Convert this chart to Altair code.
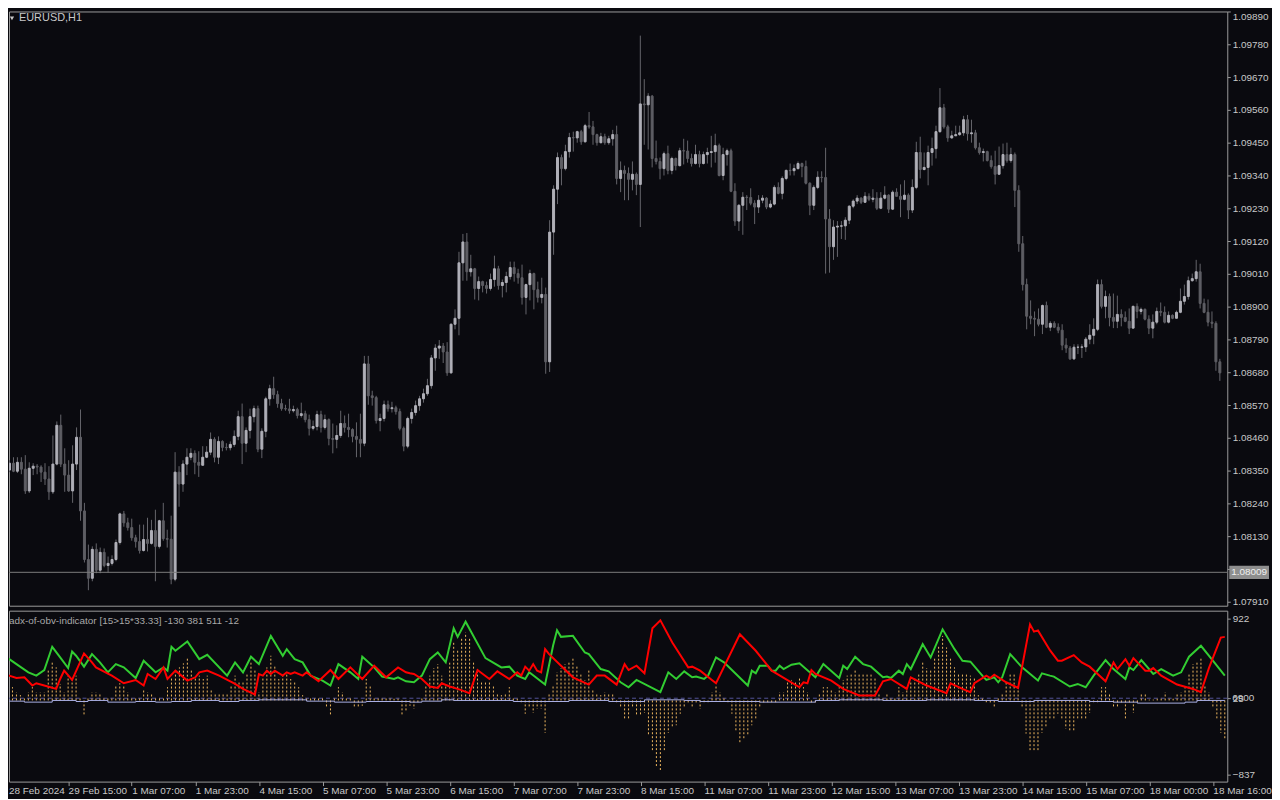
import altair as alt
import pandas as pd

# ---------------- price data (EURUSD H1) ----------------
OPEN_FIRST = 1.08352
CLOSE = [
1.08375,1.08348,1.08378,1.08355,1.08282,1.08358,1.08365,1.08362,1.08345,1.08322,
1.08279,1.08372,1.08502,1.08372,1.08335,1.08282,1.08372,1.08462,1.08215,1.08052,
1.07989,1.08086,1.08016,1.08076,1.08032,1.08039,1.08052,1.08109,1.08205,1.08175,
1.08159,1.08125,1.08112,1.08082,1.08119,1.08106,1.08149,1.08096,1.08182,1.08122,
1.08120,1.07986,1.08345,1.08305,1.08372,1.08395,1.08408,1.08378,1.08368,1.08395,
1.08412,1.08455,1.08395,1.08448,1.08428,1.08427,1.08438,1.08465,1.08531,1.08442,
1.08485,1.08531,1.08558,1.08422,1.08482,1.08591,1.08625,1.08605,1.08575,1.08558,
1.08557,1.08551,1.08555,1.08535,1.08541,1.08521,1.08492,1.08498,1.08538,1.08495,
1.08521,1.08458,1.08455,1.08468,1.08508,1.08495,1.08488,1.08465,1.08455,1.08442,
1.08708,1.08601,1.08595,1.08518,1.08525,1.08571,1.08558,1.08561,1.08548,1.08492,
1.08432,1.08525,1.08545,1.08568,1.08591,1.08608,1.08635,1.08728,1.08761,1.08768,
1.08748,1.08678,1.08841,1.08861,1.09047,1.09117,1.09017,1.09027,1.08961,1.08984,
1.08971,1.08961,1.08991,1.09027,1.08971,1.08981,1.09001,1.09031,1.09011,1.08997,
1.08931,1.08974,1.09011,1.08957,1.08931,1.08941,1.08715,1.09150,1.09294,1.09400,
1.09363,1.09420,1.09467,1.09466,1.09487,1.09453,1.09507,1.09503,1.09477,1.09450,
1.09470,1.09450,1.09463,1.09477,1.09330,1.09357,1.09347,1.09327,1.09344,1.09310,
1.09580,1.09577,1.09606,1.09397,1.09387,1.09363,1.09413,1.09357,1.09397,1.09373,
1.09423,1.09422,1.09397,1.09380,1.09410,1.09380,1.09410,1.09417,1.09420,1.09440,
1.09340,1.09410,1.09423,1.09287,1.09187,1.09240,1.09267,1.09266,1.09247,1.09234,
1.09257,1.09264,1.09234,1.09244,1.09300,1.09280,1.09330,1.09357,1.09356,1.09363,
1.09380,1.09370,1.09314,1.09240,1.09300,1.09334,1.09333,1.09194,1.09101,1.09167,
1.09170,1.09171,1.09190,1.09237,1.09254,1.09264,1.09250,1.09270,1.09260,1.09264,
1.09230,1.09264,1.09274,1.09227,1.09284,1.09270,1.09260,1.09274,1.09224,1.09300,
1.09417,1.09360,1.09367,1.09417,1.09430,1.09487,1.09567,1.09503,1.09466,1.09473,
1.09477,1.09483,1.09527,1.09480,1.09483,1.09433,1.09417,1.09420,1.09390,1.09370,
1.09344,1.09373,1.09410,1.09390,1.09410,1.09290,1.09111,1.08974,1.08868,1.08861,
1.08858,1.08841,1.08904,1.08831,1.08844,1.08831,1.08821,1.08771,1.08761,1.08725,
1.08764,1.08764,1.08765,1.08791,1.08804,1.08824,1.08974,1.08901,1.08934,1.08864,
1.08851,1.08874,1.08864,1.08851,1.08828,1.08901,1.08884,1.08891,1.08858,1.08828,
1.08848,1.08884,1.08881,1.08848,1.08871,1.08861,1.08881,1.08918,1.08934,1.08987,
1.08994,1.09017,1.08911,1.08881,1.08848,1.08844,1.08715,1.08678]

HIGH = [
1.08385,1.08395,1.08395,1.08395,1.08402,1.08378,1.08375,1.08372,1.08368,1.08375,
1.08365,1.08468,1.08515,1.08538,1.08425,1.08385,1.08435,1.08495,1.08555,1.08242,
1.08102,1.08096,1.08106,1.08092,1.08089,1.08062,1.08066,1.08119,1.08209,1.08215,
1.08192,1.08189,1.08135,1.08169,1.08169,1.08192,1.08185,1.08219,1.08185,1.08242,
1.08152,1.08199,1.08412,1.08365,1.08385,1.08425,1.08425,1.08418,1.08415,1.08432,
1.08432,1.08478,1.08462,1.08465,1.08452,1.08442,1.08448,1.08485,1.08551,1.08575,
1.08495,1.08558,1.08568,1.08568,1.08492,1.08598,1.08638,1.08665,1.08618,1.08591,
1.08571,1.08591,1.08568,1.08561,1.08578,1.08551,1.08538,1.08518,1.08551,1.08551,
1.08538,1.08525,1.08508,1.08502,1.08551,1.08535,1.08541,1.08492,1.08512,1.08541,
1.08735,1.08735,1.08618,1.08601,1.08541,1.08585,1.08585,1.08581,1.08568,1.08558,
1.08498,1.08531,1.08558,1.08585,1.08601,1.08625,1.08658,1.08738,1.08774,1.08788,
1.08778,1.08781,1.08844,1.08891,1.09084,1.09144,1.09147,1.09074,1.09030,1.09001,
1.08987,1.08984,1.09011,1.09071,1.09037,1.08991,1.09017,1.09051,1.09051,1.09027,
1.09041,1.08977,1.09024,1.09014,1.08984,1.08997,1.08964,1.09190,1.09307,1.09417,
1.09410,1.09443,1.09483,1.09487,1.09490,1.09493,1.09513,1.09553,1.09523,1.09480,
1.09483,1.09480,1.09473,1.09493,1.09507,1.09387,1.09373,1.09367,1.09387,1.09350,
1.09809,1.09663,1.09616,1.09610,1.09457,1.09400,1.09420,1.09440,1.09403,1.09400,
1.09433,1.09463,1.09457,1.09413,1.09443,1.09423,1.09420,1.09433,1.09473,1.09480,
1.09447,1.09433,1.09430,1.09430,1.09314,1.09244,1.09284,1.09274,1.09297,1.09257,
1.09274,1.09274,1.09267,1.09257,1.09307,1.09317,1.09337,1.09360,1.09380,1.09377,
1.09387,1.09383,1.09390,1.09317,1.09307,1.09354,1.09354,1.09433,1.09227,1.09190,
1.09187,1.09187,1.09200,1.09240,1.09260,1.09274,1.09267,1.09284,1.09280,1.09294,
1.09284,1.09284,1.09304,1.09277,1.09290,1.09297,1.09310,1.09324,1.09280,1.09327,
1.09453,1.09470,1.09417,1.09440,1.09467,1.09507,1.09633,1.09580,1.09510,1.09490,
1.09507,1.09507,1.09540,1.09543,1.09527,1.09493,1.09450,1.09430,1.09423,1.09407,
1.09423,1.09437,1.09447,1.09450,1.09433,1.09417,1.09307,1.09137,1.08994,1.08921,
1.08884,1.08894,1.08907,1.08917,1.08851,1.08851,1.08844,1.08841,1.08794,1.08768,
1.08774,1.08774,1.08774,1.08798,1.08841,1.08861,1.08991,1.08991,1.08954,1.08944,
1.08944,1.08937,1.08891,1.08884,1.08894,1.08904,1.08911,1.08897,1.08894,1.08871,
1.08874,1.08897,1.08914,1.08901,1.08884,1.08874,1.08887,1.08961,1.08974,1.09001,
1.09011,1.09057,1.09044,1.08927,1.08924,1.08884,1.08851,1.08725]

LOW = [
1.08345,1.08345,1.08342,1.08338,1.08272,1.08275,1.08335,1.08338,1.08312,1.08302,
1.08252,1.08272,1.08368,1.08362,1.08279,1.08279,1.08242,1.08352,1.08182,1.08042,
1.07949,1.07979,1.08006,1.08006,1.08026,1.08009,1.08032,1.08046,1.08102,1.08162,
1.08149,1.08115,1.08092,1.08072,1.08079,1.08079,1.08102,1.07979,1.08089,1.08115,
1.08092,1.07969,1.07979,1.08229,1.08279,1.08335,1.08385,1.08338,1.08329,1.08368,
1.08392,1.08402,1.08378,1.08372,1.08415,1.08418,1.08418,1.08430,1.08452,1.08372,
1.08412,1.08458,1.08512,1.08412,1.08392,1.08462,1.08568,1.08591,1.08561,1.08551,
1.08551,1.08541,1.08545,1.08525,1.08528,1.08512,1.08468,1.08485,1.08485,1.08478,
1.08488,1.08435,1.08408,1.08425,1.08460,1.08478,1.08462,1.08445,1.08395,1.08395,
1.08432,1.08571,1.08568,1.08508,1.08482,1.08515,1.08548,1.08545,1.08538,1.08485,
1.08415,1.08425,1.08508,1.08535,1.08551,1.08578,1.08601,1.08625,1.08685,1.08725,
1.08711,1.08668,1.08675,1.08824,1.08804,1.08987,1.08987,1.09001,1.08924,1.08921,
1.08948,1.08944,1.08954,1.08967,1.08957,1.08931,1.08948,1.08991,1.08984,1.08977,
1.08907,1.08874,1.08921,1.08891,1.08914,1.08911,1.08675,1.08681,1.09074,1.09244,
1.09307,1.09357,1.09400,1.09420,1.09450,1.09443,1.09450,1.09497,1.09443,1.09440,
1.09447,1.09443,1.09443,1.09440,1.09310,1.09284,1.09257,1.09257,1.09290,1.09274,
1.09167,1.09443,1.09427,1.09367,1.09377,1.09327,1.09340,1.09344,1.09344,1.09357,
1.09370,1.09377,1.09383,1.09370,1.09377,1.09367,1.09377,1.09380,1.09367,1.09383,
1.09337,1.09324,1.09373,1.09284,1.09171,1.09154,1.09141,1.09224,1.09240,1.09177,
1.09214,1.09247,1.09227,1.09230,1.09240,1.09277,1.09260,1.09324,1.09340,1.09340,
1.09360,1.09334,1.09310,1.09207,1.09224,1.09294,1.09317,1.09011,1.09014,1.09057,
1.09067,1.09127,1.09124,1.09177,1.09230,1.09244,1.09244,1.09250,1.09254,1.09250,
1.09224,1.09227,1.09260,1.09214,1.09224,1.09270,1.09200,1.09257,1.09194,1.09214,
1.09294,1.09330,1.09357,1.09307,1.09373,1.09397,1.09483,1.09497,1.09453,1.09463,
1.09473,1.09473,1.09473,1.09457,1.09450,1.09427,1.09410,1.09387,1.09387,1.09363,
1.09310,1.09344,1.09363,1.09383,1.09383,1.09234,1.09084,1.08954,1.08824,1.08841,
1.08801,1.08834,1.08808,1.08828,1.08818,1.08828,1.08811,1.08754,1.08745,1.08721,
1.08721,1.08741,1.08728,1.08748,1.08774,1.08774,1.08818,1.08894,1.08861,1.08834,
1.08828,1.08828,1.08834,1.08848,1.08808,1.08828,1.08861,1.08874,1.08854,1.08808,
1.08794,1.08841,1.08868,1.08844,1.08844,1.08858,1.08861,1.08878,1.08907,1.08924,
1.08984,1.08984,1.08894,1.08878,1.08834,1.08828,1.08685,1.08651]

CURRENT_LINE = 1.08009
PRICE_TICKS = [1.07910, 1.08020, 1.08130, 1.08240, 1.08350, 1.08460, 1.08570,
               1.08680, 1.08790, 1.08900, 1.09010, 1.09120, 1.09230, 1.09340,
               1.09450, 1.09560, 1.09670, 1.09780, 1.09890]

# ---------------- indicator data ----------------
HIST = [
194,150,150,93,60,40,93,150,93,93,
93,336,429,373,186,93,280,242,280,40,
-157,40,93,93,67,40,40,40,157,194,
157,93,40,40,40,130,93,67,40,40,
40,150,261,317,373,418,485,354,269,280,
242,280,130,67,67,67,67,168,280,224,
224,298,429,354,93,261,373,504,392,242,
280,317,242,205,150,60,40,40,40,40,
40,-75,-157,40,150,93,40,40,-83,-83,
-60,242,168,40,40,40,40,40,20,20,
-157,-130,-60,-94,-20,40,168,280,365,410,
280,168,448,672,567,717,765,709,429,336,
205,205,205,168,75,60,75,150,40,20,
-20,-150,-75,-140,-94,-94,-366,75,168,317,
365,410,429,485,392,306,231,343,112,75,
60,93,82,67,-20,-75,-206,-206,-83,-157,
-157,-140,-392,-560,-747,-803,-560,-366,-299,-280,
-150,-75,-40,-75,-40,-94,-20,-20,93,168,
93,40,-20,-150,-355,-486,-430,-400,-280,-224,
-75,-40,-20,-20,-20,93,93,224,231,224,
269,150,93,-40,-40,67,150,150,130,93,
150,231,280,298,354,298,298,298,298,261,
67,40,82,40,40,150,93,150,205,254,
298,429,365,343,485,605,728,597,485,373,
298,298,298,280,261,60,40,-20,-40,-75,
40,82,205,298,298,168,-75,-374,-560,-560,
-560,-366,-292,-224,-224,-150,-224,-318,-336,-355,
-224,-224,-206,-140,-20,-20,150,150,67,-75,
-70,-40,-224,-40,-140,-20,82,82,10,10,
20,20,93,20,20,67,93,150,298,410,
448,493,157,93,-75,-224,-366,-430]

GREEN_BAR = [0,3,6,8,10,12,14,16,17,18, 20,22,24,26,28,30,33,35,38,40,
             41,42,43,46,49,51,56,58,60,62, 64,67,70,71,73,75,77,80,82,84,
             87,89,90,93,95,98,99,101,103,105, 107,109,111,113,114,116,121,125,127,129,
             131,132,136,138,139,140,143,146,147,150, 152,155,157,159,165,167,169,171,173,174,
             176,177,179,181,187,188,189,190,192,193, 194,195,196,198,200,204,206,210,211,212,
             214,216,218,221,222,223,225,226,227,228, 231,233,236,239,241,243,246,247,249,250,
             251,253,256,260,261,263,264,268,270,272, 274,277,279,282,283,284,286,289,291,294,
             296,298,301,304,307]
GREEN_VAL = [504,410,317,280,343,605,485,365,552,504, 381,522,429,317,410,373,253,448,317,373,
             336,605,560,664,466,515,280,429,317,493, 410,728,504,578,466,429,280,224,168,410,
             317,242,493,373,269,242,261,216,205,280, 466,541,429,813,717,888,477,373,381,280,
             242,317,179,616,791,717,728,541,522,354, 328,205,149,231,93,317,242,328,261,269,
             242,280,485,429,168,336,306,392,392,336, 336,392,354,403,418,261,410,253,392,354,
             493,410,381,261,269,253,336,298,410,354, 634,485,802,578,448,437,280,231,261,205,
             261,522,373,224,306,280,269,157,186,149, 280,455,354,242,373,343,455,298,354,280,
             317,493,616,448,280]

RED_BAR = [0,3,5,7,8,10,13,14,15,17, 20,22,23,27,30,33,35,36,38,40,
           41,43,46,48,49,51,54,58,60,63, 64,65,66,67,68,70,71,72,73,75,
           76,79,82,84,87,90,93,96,99,101, 102,103,105,107,109,110,112,114,117,119,
           122,124,127,129,130,131,132,133,134,135, 136,137,140,143,147,149,151,154,156,157,
           159,161,163,165,168,172,173,175,179,185, 189,191,193,200,201,202,203,204,208,211,
           215,219,221,223,227,228,232,237,238,241, 243,244,247,248,249,252,255,258,259,260,
           263,265,266,269,271,273,277,279,280,282, 283,284,287,288,289,291,295,299,301,303,
           306,307]
RED_VAL = [298,253,261,168,194,168,130,242,336,231, 530,429,373,280,194,231,168,298,242,373,
           242,336,224,261,317,336,280,186,130,67, 298,280,336,298,336,280,317,298,317,280,
           317,216,343,242,373,242,392,261,373,317, 306,298,242,157,141,194,157,130,82,343,
           242,328,242,317,280,381,336,410,336,317, 578,522,392,261,179,280,280,179,410,343,
           392,306,813,903,653,373,381,336,194,746, 560,448,336,149,205,194,343,298,224,130,
           56,56,216,242,130,261,168,82,194,130, 93,194,280,253,291,205,141,858,776,790,
           567,448,448,511,429,381,216,429,354,466, 392,477,336,336,365,280,179,130,93,365,
           709,717]

BLUE_BAR = [0,5,12,18,21,26,33,38,42,47, 54,59,64,76,83,91,102,105,110,113,
            128,142,152,161,171,175,190,204,210,221, 232,244,250,259,273,279,285,297,300,307]
BLUE_VAL = [-8,-19,0,-12,0,-19,-12,-19,-12,0, -12,0,7,-8,-19,-12,-19,-8,7,0,
            -12,0,-12,7,0,-12,-19,0,7,0, 7,0,-12,0,-12,-19,-30,-19,0,0]

LEVEL = 25
IND_AXIS_VALUES = [922, 25, -837]
IND_TITLE = "adx-of-obv-indicator [15>15*33.33] -130 381 511 -12"
CHART_TITLE = "EURUSD,H1"
FIRST_LABEL = "28 Feb 2024"
X_TICK_BARS = [16, 32, 48, 64, 80, 96, 112, 128, 144, 160, 176, 192, 208, 224, 240, 256, 272, 288, 304]
X_TICK_LABELS = ["29 Feb 15:00", "1 Mar 07:00", "1 Mar 23:00", "4 Mar 15:00", "5 Mar 07:00",
                 "5 Mar 23:00", "6 Mar 15:00", "7 Mar 07:00", "7 Mar 23:00", "8 Mar 15:00",
                 "11 Mar 07:00", "11 Mar 23:00", "12 Mar 15:00", "13 Mar 07:00", "13 Mar 23:00",
                 "14 Mar 15:00", "15 Mar 07:00", "18 Mar 00:00", "18 Mar 16:00"]

# ---------------- tables ----------------
N = len(CLOSE)
candles = pd.DataFrame({
    "bar": list(range(N)),
    "open": [OPEN_FIRST] + CLOSE[:-1],
    "close": CLOSE,
    "high": HIGH,
    "low": LOW,
})
osc = pd.DataFrame({"bar": list(range(N)), "hist": HIST, "zero": [0] * N})
green = pd.DataFrame({"bar": GREEN_BAR, "v": GREEN_VAL})
red = pd.DataFrame({"bar": RED_BAR, "v": RED_VAL})
blue = pd.DataFrame({"bar": BLUE_BAR, "v": BLUE_VAL})

# ---------------- style ----------------
W, H1, H2 = 1226, 598, 172
BG = "#0a0a0f"
FRAME = "#9a9a9a"
TXT = "#c8c8c8"
FONT = "Liberation Sans"
UP = "#b0b0b8"
DN = "#5e5e64"
WICK = "#66666c"
HIST_COLOR = "#f0b860"

xs = alt.Scale(domain=[1.125, 307.625], nice=False, zero=False)
ys1 = alt.Scale(domain=[1.07897, 1.0989], nice=False, zero=False)
ys2 = alt.Scale(domain=[-915, 1012], nice=False, zero=False)

y1_axis = alt.Axis(orient="right", values=PRICE_TICKS, format=".5f", title=None, grid=False,
                   domain=False, tickSize=3, tickColor=FRAME, labelColor=TXT, labelFont=FONT,
                   labelFontSize=10, labelPadding=2, labelFlush=True, labelOverlap=False)
y2_axis = alt.Axis(orient="right", values=IND_AXIS_VALUES, title=None, grid=False,
                   domain=False, tickSize=3, tickColor=FRAME, labelColor=TXT, labelFont=FONT,
                   labelFontSize=10, labelPadding=2, labelOverlap=False)
label_expr = "[" + ",".join("'%s'" % s for s in X_TICK_LABELS) + "][round(datum.value/16)-1]"
x_axis = alt.Axis(values=X_TICK_BARS, labelExpr=label_expr, title=None, grid=False, domain=False,
                  tickSize=4, tickColor=FRAME, labelColor=TXT, labelFont=FONT, labelFontSize=10,
                  labelAlign="left", labelBaseline="top", labelPadding=0, labelFlush=False,
                  labelOverlap=False)

X_top = alt.X("bar:Q", scale=xs, axis=None)
X_bot = alt.X("bar:Q", scale=xs, axis=x_axis)

# ---------------- top panel ----------------
wicks = alt.Chart(candles).mark_rule(color=WICK, strokeWidth=1, clip=True).encode(
    x=X_top, y=alt.Y("low:Q", scale=ys1, axis=y1_axis), y2="high:Q")
up_test = "datum.close >= datum.open"
bodies = alt.Chart(candles).mark_bar(size=2, strokeWidth=1, clip=True).encode(
    x=X_top, y=alt.Y("open:Q", scale=ys1, axis=y1_axis), y2="close:Q",
    color=alt.condition(up_test, alt.value(UP), alt.value(DN)),
    stroke=alt.condition(up_test, alt.value(UP), alt.value(DN)))

cur = pd.DataFrame({"p": [CURRENT_LINE], "top": [CURRENT_LINE + 0.00022],
                    "bot": [CURRENT_LINE - 0.00022], "t": ["%.5f" % CURRENT_LINE]})
cur_line = alt.Chart(cur).mark_rule(color="#7c7c7c", strokeWidth=1).encode(
    y=alt.Y("p:Q", scale=ys1, axis=y1_axis))
cur_box = alt.Chart(cur).mark_rect(color="#8e8e8e").encode(
    x=alt.value(W + 2), x2=alt.value(W + 42),
    y=alt.Y("top:Q", scale=ys1, axis=y1_axis), y2="bot:Q")
cur_txt = alt.Chart(cur).mark_text(align="left", baseline="middle", font=FONT, fontSize=10,
                                   color="#f0f0f0").encode(
    x=alt.value(W + 4), y=alt.Y("p:Q", scale=ys1, axis=y1_axis), text="t:N")

ttl = pd.DataFrame({"t": [CHART_TITLE]})
title_txt = alt.Chart(ttl).mark_text(align="left", baseline="top", font=FONT, fontSize=11,
                                     color=TXT).encode(x=alt.value(10), y=alt.value(1), text="t:N")
tri = alt.Chart(ttl).mark_point(shape="triangle-down", filled=True, size=18, color=TXT,
                                opacity=1).encode(x=alt.value(3), y=alt.value(7))

top = alt.layer(wicks, bodies, cur_line, cur_box, cur_txt, title_txt, tri).properties(
    width=W, height=H1)

# ---------------- indicator panel ----------------
lvl = pd.DataFrame({"v": [LEVEL]})
level_rule = alt.Chart(lvl).mark_rule(color="#55559a", strokeWidth=1, strokeDash=[4, 3]).encode(
    y=alt.Y("v:Q", scale=ys2, axis=y2_axis))
hist = alt.Chart(osc).mark_rule(color=HIST_COLOR, strokeWidth=1, strokeDash=[2, 2], clip=True).encode(
    x=X_bot, y=alt.Y("zero:Q", scale=ys2, axis=y2_axis), y2="hist:Q")
blue_line = alt.Chart(blue).mark_line(color="#aab0e6", strokeWidth=1, interpolate="step-after",
                                      clip=True).encode(
    x=X_bot, y=alt.Y("v:Q", scale=ys2, axis=y2_axis))
green_line = alt.Chart(green).mark_line(color="#32cd32", strokeWidth=2, clip=True).encode(
    x=X_bot, y=alt.Y("v:Q", scale=ys2, axis=y2_axis))
red_line = alt.Chart(red).mark_line(color="#ff0000", strokeWidth=2, clip=True).encode(
    x=X_bot, y=alt.Y("v:Q", scale=ys2, axis=y2_axis))

ind_t = pd.DataFrame({"t": [IND_TITLE]})
ind_title = alt.Chart(ind_t).mark_text(align="left", baseline="top", font=FONT, fontSize=10,
                                       color="#a8a8a8").encode(
    x=alt.value(0), y=alt.value(5), text="t:N")
first_lab = alt.Chart(pd.DataFrame({"t": [FIRST_LABEL]})).mark_text(
    align="left", baseline="top", font=FONT, fontSize=10, color=TXT).encode(
    x=alt.value(0), y=alt.value(H2 + 4), text="t:N")
extra_lab = alt.Chart(pd.DataFrame({"v": [LEVEL], "t": ["6900"]})).mark_text(
    align="left", baseline="middle", font=FONT, fontSize=10, color=TXT).encode(
    x=alt.value(W + 5), y=alt.Y("v:Q", scale=ys2, axis=y2_axis), text="t:N")

bottom = alt.layer(level_rule, hist, blue_line, green_line, red_line, ind_title, first_lab,
                   extra_lab).properties(width=W, height=H2)

chart = alt.vconcat(top, bottom, spacing=2).properties(
    background=BG, padding=0
).configure_view(stroke=FRAME, strokeWidth=1)

chart.save("out.html", embed_options={"renderer": "svg", "actions": False})
